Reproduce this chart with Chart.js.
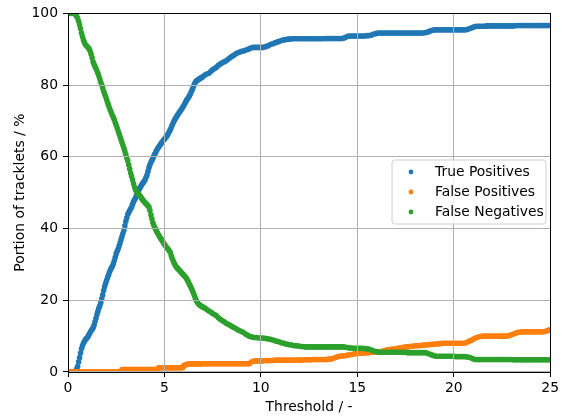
<!DOCTYPE html>
<html>
<head>
<meta charset="utf-8">
<script src="https://cdn.jsdelivr.net/npm/chart.js@4.4.1/dist/chart.umd.min.js"></script>
<style>
    html, body { margin: 0; padding: 0; background: #fff; }
    #wrap { width: 562px; height: 418px; }
</style>
</head>
<body>
<div id="wrap"><canvas id="trackletsChart" width="562" height="418"></canvas></div>
<script>
// Umbrales (eje x): paso fino hasta 7, luego 0.1
const thresholds = [
    0, 0.05, 0.1, 0.15, 0.2, 0.25, 0.3, 0.35, 0.4, 0.45,
    0.5, 0.55, 0.6, 0.65, 0.7, 0.75, 0.8, 0.85, 0.9, 0.95,
    1, 1.05, 1.1, 1.15, 1.2, 1.25, 1.3, 1.35, 1.4, 1.45,
    1.5, 1.55, 1.6, 1.65, 1.7, 1.75, 1.8, 1.85, 1.9, 1.95,
    2, 2.05, 2.1, 2.15, 2.2, 2.25, 2.3, 2.35, 2.4, 2.45,
    2.5, 2.55, 2.6, 2.65, 2.7, 2.75, 2.8, 2.85, 2.9, 2.95,
    3, 3.05, 3.1, 3.15, 3.2, 3.25, 3.3, 3.35, 3.4, 3.45,
    3.5, 3.55, 3.6, 3.65, 3.7, 3.75, 3.8, 3.85, 3.9, 3.95,
    4, 4.05, 4.1, 4.15, 4.2, 4.25, 4.3, 4.35, 4.4, 4.45,
    4.5, 4.55, 4.6, 4.65, 4.7, 4.75, 4.8, 4.85, 4.9, 4.95,
    5, 5.05, 5.1, 5.15, 5.2, 5.25, 5.3, 5.35, 5.4, 5.45,
    5.5, 5.55, 5.6, 5.65, 5.7, 5.75, 5.8, 5.85, 5.9, 5.95,
    6, 6.05, 6.1, 6.15, 6.2, 6.25, 6.3, 6.35, 6.4, 6.45,
    6.5, 6.55, 6.6, 6.65, 6.7, 6.75, 6.8, 6.85, 6.9, 6.95,
    7,
    7.1, 7.2, 7.3, 7.4, 7.5, 7.6, 7.7, 7.8, 7.9, 8,
    8.1, 8.2, 8.3, 8.4, 8.5, 8.6, 8.7, 8.8, 8.9, 9,
    9.1, 9.2, 9.3, 9.4, 9.5, 9.6, 9.7, 9.8, 9.9, 10,
    10.1, 10.2, 10.3, 10.4, 10.5, 10.6, 10.7, 10.8, 10.9, 11,
    11.1, 11.2, 11.3, 11.4, 11.5, 11.6, 11.7, 11.8, 11.9, 12,
    12.1, 12.2, 12.3, 12.4, 12.5, 12.6, 12.7, 12.8, 12.9, 13,
    13.1, 13.2, 13.3, 13.4, 13.5, 13.6, 13.7, 13.8, 13.9, 14,
    14.1, 14.2, 14.3, 14.4, 14.5, 14.6, 14.7, 14.8, 14.9, 15,
    15.1, 15.2, 15.3, 15.4, 15.5, 15.6, 15.7, 15.8, 15.9, 16,
    16.1, 16.2, 16.3, 16.4, 16.5, 16.6, 16.7, 16.8, 16.9, 17,
    17.1, 17.2, 17.3, 17.4, 17.5, 17.6, 17.7, 17.8, 17.9, 18,
    18.1, 18.2, 18.3, 18.4, 18.5, 18.6, 18.7, 18.8, 18.9, 19,
    19.1, 19.2, 19.3, 19.4, 19.5, 19.6, 19.7, 19.8, 19.9, 20,
    20.1, 20.2, 20.3, 20.4, 20.5, 20.6, 20.7, 20.8, 20.9, 21,
    21.1, 21.2, 21.3, 21.4, 21.5, 21.6, 21.7, 21.8, 21.9, 22,
    22.1, 22.2, 22.3, 22.4, 22.5, 22.6, 22.7, 22.8, 22.9, 23,
    23.1, 23.2, 23.3, 23.4, 23.5, 23.6, 23.7, 23.8, 23.9, 24,
    24.1, 24.2, 24.3, 24.4, 24.5, 24.6, 24.7, 24.8, 24.9, 25
];

// Porcentajes
const truePositives = [
    0, 0, 0, 0, 0, 0, 0, 0, 0.3, 0.8,
    1.5, 2.8, 4, 5.3, 6.5, 7.3, 8, 8.5, 9, 9.3,
    9.6, 10, 10.5, 11, 11.5, 11.9, 12.3, 13, 14, 15,
    16, 16.9, 17.8, 18.5, 19.3, 20.4, 21.5, 22.7, 23.8, 24.7,
    25.5, 26.3, 27, 27.8, 28.5, 29, 29.5, 30.2, 31, 32,
    33, 33.7, 34.3, 35.1, 36, 36.9, 37.8, 38.7, 39.6, 40.8,
    42, 43, 44, 44.5, 45, 45.5, 46, 46.8, 47.5, 48,
    48.5, 49.3, 50, 50.5, 51, 51.5, 52, 52.4, 52.8, 53.2,
    53.6, 54.3, 55, 56, 57, 57.8, 58.5, 59, 59.5, 60.2,
    60.8, 61.3, 61.8, 62.3, 62.7, 63.1, 63.5, 63.9, 64.2, 64.6,
    64.9, 65.3, 65.6, 66, 66.5, 67, 67.5, 68.1, 68.8, 69.4,
    70, 70.5, 70.9, 71.4, 71.8, 72.2, 72.6, 73, 73.4, 73.8,
    74.3, 74.8, 75.3, 75.8, 76.2, 76.6, 77, 77.6, 78.2, 78.8,
    79.5, 80.2, 80.8, 81.1, 81.3, 81.5, 81.7, 81.9, 82, 82.2,
    82.4,
    82.8, 83.1, 83.3, 83.8, 84.3, 84.6, 85, 85.5, 85.9, 86.2,
    86.5, 86.8, 87.2, 87.6, 88, 88.3, 88.7, 89, 89.2, 89.4,
    89.5, 89.7, 89.9, 90.1, 90.4, 90.5, 90.5, 90.5, 90.5, 90.5,
    90.5, 90.6, 90.8, 91, 91.3, 91.5, 91.7, 91.9, 92.1, 92.3,
    92.5, 92.6, 92.7, 92.8, 92.8, 92.9, 92.9, 92.9, 92.9, 92.9,
    92.9, 92.9, 92.9, 92.9, 92.9, 92.9, 92.9, 92.9, 92.9, 92.9,
    92.9, 92.9, 93, 93, 93, 93, 93, 93, 93, 93,
    93, 93, 93.1, 93.3, 93.6, 93.7, 93.7, 93.7, 93.7, 93.7,
    93.7, 93.7, 93.7, 93.7, 93.8, 93.8, 93.9, 94.1, 94.3, 94.4,
    94.5, 94.5, 94.5, 94.5, 94.5, 94.5, 94.5, 94.5, 94.5, 94.5,
    94.5, 94.5, 94.5, 94.5, 94.5, 94.5, 94.5, 94.5, 94.5, 94.5,
    94.5, 94.5, 94.5, 94.5, 94.6, 94.7, 94.9, 95.1, 95.3, 95.4,
    95.4, 95.4, 95.4, 95.4, 95.4, 95.4, 95.4, 95.4, 95.4, 95.4,
    95.4, 95.4, 95.4, 95.4, 95.4, 95.4, 95.5, 95.7, 95.9, 96.1,
    96.3, 96.4, 96.4, 96.4, 96.4, 96.4, 96.5, 96.5, 96.5, 96.5,
    96.5, 96.5, 96.5, 96.5, 96.5, 96.5, 96.5, 96.5, 96.5, 96.5,
    96.5, 96.6, 96.6, 96.6, 96.6, 96.6, 96.6, 96.6, 96.6, 96.6,
    96.6, 96.6, 96.6, 96.6, 96.6, 96.6, 96.6, 96.6, 96.6, 96.6
];

const falsePositives = [
    0, 0, 0, 0, 0, 0, 0, 0, 0, 0,
    0, 0, 0, 0, 0, 0, 0, 0, 0, 0,
    0, 0, 0, 0, 0, 0, 0, 0, 0, 0,
    0, 0, 0, 0, 0, 0, 0, 0, 0, 0,
    0, 0, 0, 0, 0, 0, 0, 0, 0, 0,
    0, 0, 0, 0, 0, 0, 0.7, 0.7, 0.7, 0.7,
    0.7, 0.7, 0.7, 0.7, 0.7, 0.7, 0.7, 0.7, 0.7, 0.7,
    0.7, 0.7, 0.7, 0.7, 0.7, 0.7, 0.7, 0.7, 0.7, 0.7,
    0.7, 0.7, 0.7, 0.7, 0.7, 0.7, 0.7, 0.7, 0.7, 0.7,
    0.7, 0.7, 0.7, 0.7, 1.2, 1.2, 1.2, 1.2, 1.2, 1.2,
    1.2, 1.2, 1.2, 1.2, 1.2, 1.2, 1.2, 1.2, 1.2, 1.2,
    1.2, 1.2, 1.2, 1.2, 1.2, 1.2, 1.2, 1.2, 1.2, 1.2,
    1.8, 1.9, 2.0, 2.1, 2.2, 2.2, 2.2, 2.3, 2.3, 2.3,
    2.3, 2.3, 2.3, 2.3, 2.3, 2.3, 2.3, 2.3, 2.3, 2.3,
    2.3,
    2.3, 2.3, 2.3, 2.3, 2.3, 2.3, 2.3, 2.3, 2.3, 2.3,
    2.3, 2.3, 2.3, 2.3, 2.3, 2.3, 2.3, 2.3, 2.3, 2.3,
    2.3, 2.3, 2.3, 2.3, 2.8, 3.0, 3.1, 3.1, 3.1, 3.1,
    3.1, 3.2, 3.2, 3.2, 3.2, 3.2, 3.3, 3.3, 3.3, 3.3,
    3.3, 3.3, 3.3, 3.3, 3.3, 3.3, 3.3, 3.3, 3.3, 3.3,
    3.3, 3.4, 3.4, 3.4, 3.4, 3.4, 3.5, 3.5, 3.5, 3.5,
    3.5, 3.5, 3.5, 3.5, 3.6, 3.6, 3.7, 3.9, 4.1, 4.3,
    4.4, 4.5, 4.5, 4.6, 4.7, 4.8, 4.9, 5.0, 5.1, 5.2,
    5.2, 5.3, 5.3, 5.3, 5.4, 5.4, 5.5, 5.5, 5.5, 5.6,
    5.6, 5.7, 5.8, 5.9, 6.1, 6.2, 6.3, 6.3, 6.4, 6.5,
    6.6, 6.7, 6.8, 6.9, 7.0, 7.0, 7.1, 7.2, 7.2, 7.3,
    7.3, 7.4, 7.4, 7.5, 7.5, 7.6, 7.6, 7.7, 7.7, 7.8,
    7.8, 7.9, 7.9, 8.0, 8.0, 8.0, 8.0, 8.0, 8.0, 8.0,
    8.0, 8.0, 8.0, 8.0, 8.0, 8.1, 8.3, 8.6, 8.8, 9.1,
    9.4, 9.6, 9.8, 9.9, 10, 10, 10, 10, 10, 10,
    10, 10, 10, 10, 10, 10, 10, 10.1, 10.2, 10.4,
    10.6, 10.8, 11, 11.1, 11.2, 11.2, 11.2, 11.2, 11.2, 11.2,
    11.2, 11.2, 11.2, 11.2, 11.2, 11.2, 11.3, 11.4, 11.6, 11.8
];

const falseNegatives = [
    100, 100, 100, 100, 100, 100, 100, 100, 99.6, 99.2,
    98.6, 97.8, 96.8, 95.7, 94.5, 93.5, 92.6, 91.9, 91.3, 91,
    90.7, 90.4, 90.1, 89.4, 88.6, 87.6, 86.5, 85.8, 85.2, 84.6,
    84, 83.3, 82.5, 81.7, 80.8, 80, 79.2, 78.3, 77.5, 76.8,
    76, 75.2, 74.4, 73.6, 72.9, 72.2, 71.6, 71, 70.3, 69.5,
    68.8, 68, 67.2, 66.4, 65.6, 64.8, 64, 63.2, 62.4, 61.5,
    60.6, 59.7, 58.8, 57.7, 56.6, 55.5, 54.5, 53.5, 52.5, 51.6,
    50.8, 50.3, 49.9, 49.6, 49.3, 49, 48.6, 48.2, 47.8, 47.5,
    47.2, 46.9, 46.6, 46.3, 46, 45, 43.8, 42.7, 41.6, 40.9,
    40.2, 39.7, 39.2, 38.7, 38.2, 37.7, 37.3, 36.9, 36.5, 36,
    35.6, 35.2, 34.8, 34.5, 34.2, 33.8, 33.4, 32.5, 31.7, 31,
    30.4, 29.9, 29.4, 29.1, 28.8, 28.5, 28.2, 27.9, 27.6, 27.3,
    27, 26.7, 26.4, 26, 25.5, 25, 24.4, 23.9, 23.3, 22.7,
    22, 21.3, 20.6, 20, 19.5, 19.1, 18.8, 18.6, 18.4, 18.2,
    18.1,
    17.8, 17.4, 17, 16.7, 16.3, 16, 15.7, 15.1, 14.7, 14.3,
    14, 13.6, 13.3, 13, 12.7, 12.4, 12.1, 11.8, 11.5, 11.3,
    11, 10.6, 10.3, 10, 9.8, 9.7, 9.6, 9.6, 9.5, 9.5,
    9.5, 9.4, 9.3, 9.2, 9.1, 9, 8.8, 8.6, 8.5, 8.3,
    8.1, 8, 7.8, 7.7, 7.6, 7.5, 7.4, 7.3, 7.3, 7.2,
    7.1, 7.1, 7, 7, 7, 7, 7, 7, 7, 7,
    7, 7, 7, 7, 7, 7, 7, 7, 7, 7,
    7, 7, 7, 6.9, 6.8, 6.7, 6.7, 6.6, 6.6, 6.6,
    6.6, 6.6, 6.6, 6.5, 6.5, 6.4, 6.2, 6, 5.8, 5.7,
    5.5, 5.5, 5.5, 5.5, 5.5, 5.5, 5.5, 5.5, 5.5, 5.5,
    5.5, 5.5, 5.5, 5.5, 5.5, 5.4, 5.4, 5.4, 5.4, 5.4,
    5.4, 5.4, 5.4, 5.4, 5.4, 5.3, 5.1, 4.9, 4.7, 4.5,
    4.4, 4.4, 4.4, 4.4, 4.4, 4.4, 4.4, 4.4, 4.4, 4.4,
    4.3, 4.3, 4.3, 4.3, 4.3, 4.3, 4.2, 4.1, 3.9, 3.7,
    3.5, 3.5, 3.5, 3.5, 3.5, 3.5, 3.5, 3.5, 3.5, 3.5,
    3.5, 3.5, 3.5, 3.5, 3.5, 3.5, 3.5, 3.5, 3.5, 3.5,
    3.4, 3.4, 3.4, 3.4, 3.4, 3.4, 3.4, 3.4, 3.4, 3.4,
    3.4, 3.4, 3.4, 3.4, 3.4, 3.4, 3.4, 3.4, 3.4, 3.4
];

const seriesLabels = ['True Positives', 'False Positives', 'False Negatives'];
const seriesColors = ['#1f77b4', '#ff7f0e', '#2ca02c'];
const xTicks = [0, 5, 10, 15, 20, 25];
const yTicks = [0, 20, 40, 60, 80, 100];

const FONT = 'DejaVu Sans';

function toPoints(values) {
    return thresholds.map((x, i) => ({ x: x, y: values[i] }));
}

function makeDataset(idx, values, order) {
    return {
        label: seriesLabels[idx],
        data: toPoints(values),
        backgroundColor: seriesColors[idx],
        borderWidth: 0,
        pointRadius: 2.8,
        pointHoverRadius: 2.8,
        order: order,
        clip: 0
    };
}

// Marco completo del área (como los "spines" de matplotlib)
const framePlugin = {
    id: 'frame',
    afterDraw(chart) {
        const { ctx, chartArea: a } = chart;
        ctx.save();
        ctx.strokeStyle = '#000';
        ctx.lineWidth = 1;
        ctx.strokeRect(Math.round(a.left) + 0.5, Math.round(a.top) + 0.5,
            Math.round(a.right - a.left), Math.round(a.bottom - a.top));
        ctx.restore();
    }
};

// Leyenda dentro del gráfico, a la derecha
const legendPlugin = {
    id: 'innerLegend',
    afterDraw(chart) {
        const ctx = chart.ctx;
        const x = 392, y = 160, w = 154, h = 64, r = 3;
        ctx.save();
        ctx.beginPath();
        ctx.moveTo(x + r, y);
        ctx.lineTo(x + w - r, y);
        ctx.arcTo(x + w, y, x + w, y + r, r);
        ctx.lineTo(x + w, y + h - r);
        ctx.arcTo(x + w, y + h, x + w - r, y + h, r);
        ctx.lineTo(x + r, y + h);
        ctx.arcTo(x, y + h, x, y + h - r, r);
        ctx.lineTo(x, y + r);
        ctx.arcTo(x, y, x + r, y, r);
        ctx.closePath();
        ctx.fillStyle = 'rgba(255,255,255,0.8)';
        ctx.fill();
        ctx.strokeStyle = '#d0d0d0';
        ctx.lineWidth = 1;
        ctx.stroke();

        ctx.font = '13.9px "' + FONT + '"';
        ctx.textBaseline = 'middle';
        ctx.textAlign = 'left';
        seriesLabels.forEach((label, i) => {
            const cy = 172 + i * 20;
            ctx.beginPath();
            ctx.arc(411, cy, 2.4, 0, Math.PI * 2);
            ctx.fillStyle = seriesColors[i];
            ctx.fill();
            ctx.fillStyle = '#000';
            ctx.fillText(label, 435, cy);
        });
        ctx.restore();
    }
};

const ctx = document.getElementById('trackletsChart');
const chart = new Chart(ctx.getContext('2d'), {
    type: 'scatter',
    data: {
        datasets: [
            makeDataset(0, truePositives, 2),
            makeDataset(1, falsePositives, 1),
            makeDataset(2, falseNegatives, 0)
        ]
    },
    options: {
        responsive: false,
        animation: false,
        devicePixelRatio: 1,
        layout: {
            padding: { left: 0, top: 12, right: 10, bottom: 0 }
        },
        plugins: {
            legend: { display: false },
            tooltip: { enabled: false }
        },
        scales: {
            x: {
                type: 'linear',
                min: 0,
                max: 25,
                afterFit: (s) => { s.height = 46; },
                afterBuildTicks: (s) => { s.ticks = xTicks.map(v => ({ value: v })); },
                grid: {
                    z: 1,
                    color: '#b0b0b0',
                    lineWidth: 1,
                    tickColor: '#000',
                    tickLength: 5
                },
                border: { display: false },
                ticks: {
                    color: '#000',
                    padding: 3,
                    maxRotation: 0,
                    font: { family: FONT, size: 13.9 }
                },
                title: {
                    display: true,
                    text: 'Threshold / -',
                    color: '#000',
                    padding: { top: 0, bottom: 2 },
                    font: { family: FONT, size: 13.9 }
                }
            },
            y: {
                type: 'linear',
                min: 0,
                max: 100,
                afterFit: (s) => { s.width = 68; },
                afterBuildTicks: (s) => { s.ticks = yTicks.map(v => ({ value: v })); },
                grid: {
                    z: 1,
                    color: '#b0b0b0',
                    lineWidth: 1,
                    tickColor: '#000',
                    tickLength: 5
                },
                border: { display: false },
                ticks: {
                    color: '#000',
                    padding: 5,
                    font: { family: FONT, size: 13.9 }
                },
                title: {
                    display: true,
                    text: 'Portion of tracklets / %',
                    color: '#000',
                    padding: { top: 12, bottom: 0 },
                    font: { family: FONT, size: 13.9 }
                }
            }
        }
    },
    plugins: [framePlugin, legendPlugin]
});
</script>
</body>
</html>
